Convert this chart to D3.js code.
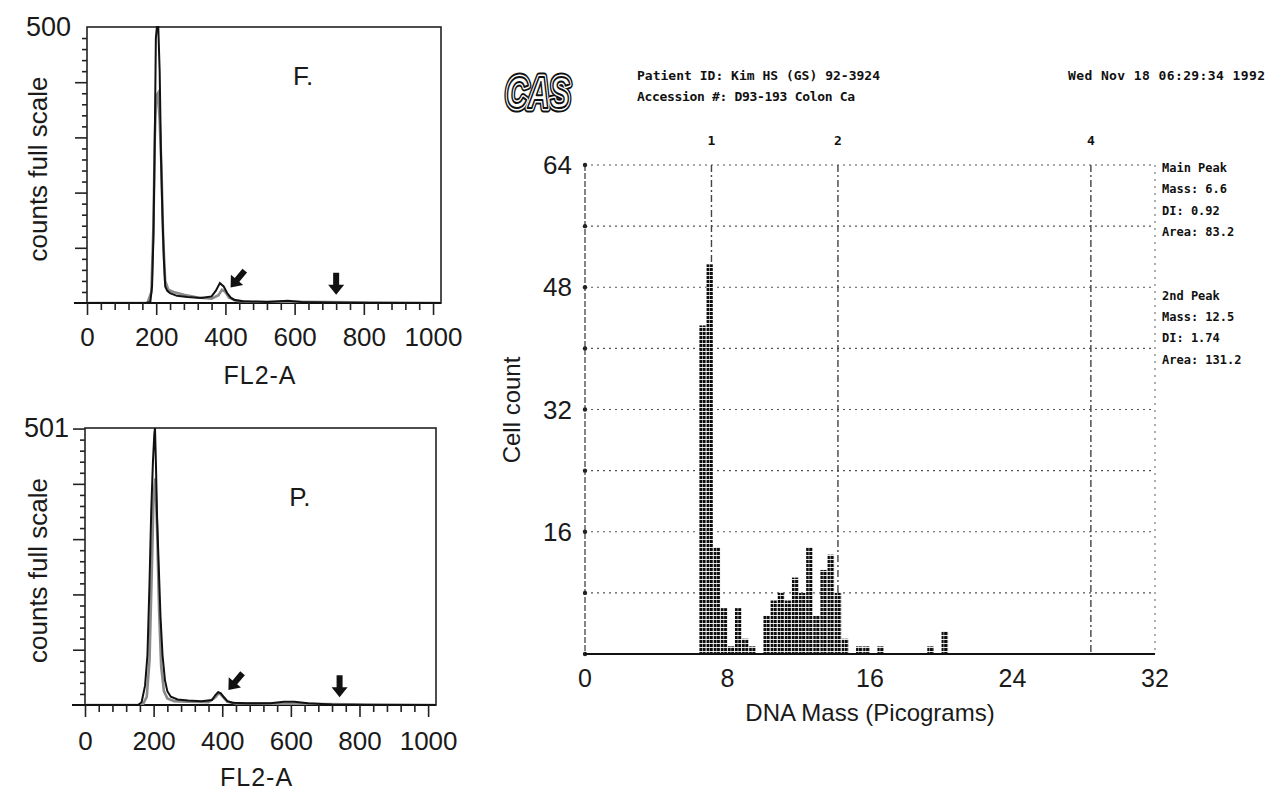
<!DOCTYPE html>
<html>
<head>
<meta charset="utf-8">
<script src="https://cdn.jsdelivr.net/npm/d3@7/dist/d3.min.js"></script>
<style>
	body{margin:0;background:#fff;}
	svg{display:block;}
	.sans{font-family:"Liberation Sans", Arial, sans-serif;fill:#1a1a1a;}
	.mono{font-family:"DejaVu Sans Mono", monospace;fill:#111;font-weight:bold;}
</style>
</head>
<body>
<svg id="svg"></svg>
<script>
"use strict";

// ---- left histograms (FL2-A channel vs counts) ----
var fChannels  = [0,170,183,188,192,196,199,202,206,210,214,218,222,226,232,240,260,290,330,360,372,384,395,405,415,425,450,520,580,620,700,820,1023];
var fCounts    = [0,0,2,30,120,300,480,500,500,420,260,160,80,30,22,18,13,11,9,12,22,36,30,18,10,6,3,2,4,2,1,0,0];
var fChannels2 = [0,175,186,192,196,200,205,210,215,220,226,235,250,280,320,360,380,390,400,410,430,470,600,1023];
var fCounts2   = [0,0,20,140,300,375,380,330,250,120,40,24,20,15,10,8,14,24,20,10,4,2,2,0];

var pChannels  = [0,155,165,175,182,188,193,198,202,204,207,210,215,220,226,233,240,250,270,300,340,370,380,388,396,405,415,430,470,540,580,610,650,720,820,1023];
var pCounts    = [0,0,5,35,90,220,350,440,490,501,430,340,250,160,90,45,25,15,10,8,7,9,18,23,21,14,7,4,3,3,6,6,3,1,0,0];
var pChannels2 = [0,168,180,188,195,200,205,210,216,222,230,240,260,300,360,380,390,400,415,440,600,1023];
var pCounts2   = [0,0,15,80,250,380,410,320,170,70,25,12,7,6,5,14,22,16,6,3,2,0];

var xTicksMajor = [0,200,400,600,800,1000];

// ---- CAS DNA mass histogram ----
var massBins   = [6.4,6.8,7.2,7.6,8.0,8.4,8.8,9.2,10.0,10.4,10.8,11.2,11.6,12.0,12.4,12.8,13.2,13.6,14.0,14.4,15.2,15.6,16.4,19.2,20.0];
var cellCounts = [43,51,14,6,1,6,2,1,5,7,8,7,10,8,14,5,11,13,8,2,1,1,1,1,3];
var massTicks  = [0,8,16,24,32];
var countTicks = [16,32,48,64];
var refLines   = [{m:7.1, label:"1"},{m:14.2, label:"2"},{m:28.4, label:"4"}];
var peakInfo   = ["Main Peak","Mass: 6.6","DI:   0.92","Area: 83.2","","","2nd Peak","Mass: 12.5","DI:   1.74","Area: 131.2"];

var svg = d3.select("#svg").attr("width",1270).attr("height",794);

var defs = svg.append("defs");
var pat = defs.append("pattern").attr("id","dots")
	.attr("patternUnits","userSpaceOnUse").attr("width",3.55).attr("height",4);
pat.append("rect").attr("width",3.55).attr("height",4).attr("fill","#fff");
pat.append("rect").attr("width",3.05).attr("height",3.1).attr("fill","#0d0d0d");

// arrow glyph, pointing down, tip at (0,0)
var arrowPath = "M0,0 L-8,-10 L-3,-10 L-3,-22 L3,-22 L3,-10 L8,-10 Z";

function panel(o){
	var g = svg.append("g");
	var x = d3.scaleLinear().domain([0,1023]).range([o.left,o.right]);
	var y = d3.scaleLinear().domain([0,o.yMax]).range([o.bottom,o.top]);

	var clipId = "clip"+o.name;
	defs.append("clipPath").attr("id",clipId).append("rect")
		.attr("x",o.left).attr("y",o.top-1).attr("width",o.right-o.left).attr("height",o.bottom-o.top+1);

	// frame
	g.append("rect").attr("x",o.left).attr("y",o.top)
		.attr("width",o.right-o.left).attr("height",o.bottom-o.top)
		.attr("fill","none").attr("stroke","#222").attr("stroke-width",1.6);
	g.append("line").attr("x1",o.left-13).attr("x2",o.right)
		.attr("y1",o.bottom).attr("y2",o.bottom).attr("stroke","#111").attr("stroke-width",2);

	// x axis ticks
	var xMinor = d3.range(0,1001,40).filter(function(v){return v%200!==0;});
	var ax = g.append("g").attr("transform","translate(0,"+o.bottom+")")
		.call(d3.axisBottom(x).tickValues(xTicksMajor).tickSize(12).tickPadding(o.labelPad).tickFormat(d3.format("d")));
	g.append("g").attr("transform","translate(0,"+o.bottom+")")
		.call(d3.axisBottom(x).tickValues(xMinor).tickSize(7).tickFormat(""));

	// y axis ticks
	g.append("g").attr("transform","translate("+o.left+",0)")
		.call(d3.axisLeft(y).tickValues(d3.range(100,o.yMax,100)).tickSize(12).tickFormat(""));
	g.append("g").attr("transform","translate("+o.left+",0)")
		.call(d3.axisLeft(y).tickValues(d3.range(20,o.yMax,20).filter(function(v){return v%100!==0;})).tickSize(5).tickFormat(""));

	g.selectAll(".domain").remove();
	g.selectAll(".tick line").attr("stroke","#222").attr("stroke-width",1.6);
	ax.selectAll("text").attr("class","sans").style("font-size","26px").attr("fill","#1a1a1a");

	g.append("text").attr("class","sans").attr("x",o.left-16).attr("y",o.top+9)
		.attr("text-anchor","end").style("font-size","27px").text(o.yMax);

	g.append("text").attr("class","sans")
		.attr("transform","translate(47,"+((o.top+o.bottom)/2+4)+") rotate(-90)")
		.attr("text-anchor","middle").style("font-size","26px").text("counts full scale");

	g.append("text").attr("class","sans").attr("x",x(500)).attr("y",o.bottom+o.titleDy)
		.attr("text-anchor","middle").style("font-size","25px").style("letter-spacing","1px").text("FL2-A");

	g.append("text").attr("class","sans").attr("x",x(o.tagAt[0])).attr("y",y(o.tagAt[1]))
		.style("font-size","26px").text(o.tag);

	// curves
	var line = d3.line().x(function(d){return x(d[0]);}).y(function(d){return y(d[1]);});
	var cg = g.append("g").attr("clip-path","url(#"+clipId+")");
	cg.append("path").datum(d3.zip(o.ch2,o.c2)).attr("d",line)
		.attr("fill","none").attr("stroke","#8a8a8a").attr("stroke-width",2.6);
	cg.append("path").datum(d3.zip(o.ch,o.c)).attr("d",line)
		.attr("fill","none").attr("stroke","#111").attr("stroke-width",2);

	// arrows
	g.append("path").attr("d",arrowPath).attr("fill","#111")
		.attr("transform","translate("+x(o.diag[0])+","+y(o.diag[1])+") rotate(40)");
	g.append("path").attr("d",arrowPath).attr("fill","#111")
		.attr("transform","translate("+x(o.down[0])+","+y(o.down[1])+")");
}

panel({name:"F", left:87, right:441, top:27, bottom:303, yMax:500, labelPad:13, titleDy:81,
	ch:fChannels, c:fCounts, ch2:fChannels2, c2:fCounts2, tag:"F.", tagAt:[595,395],
	diag:[415,28], down:[720,15]});
panel({name:"P", left:85, right:436, top:428, bottom:705, yMax:501, labelPad:15, titleDy:81,
	ch:pChannels, c:pCounts, ch2:pChannels2, c2:pCounts2, tag:"P.", tagAt:[595,360],
	diag:[418,27], down:[742,14]});

// ---- right chart ----
var rx = d3.scaleLinear().domain([0,32]).range([585,1155]);
var ry = d3.scaleLinear().domain([0,64]).range([654,165]);
var r = svg.append("g");

// grid
r.selectAll(".hgrid").data(d3.range(8,65,8)).enter().append("line")
	.attr("x1",rx(0)).attr("x2",rx(32)).attr("y1",ry).attr("y2",ry)
	.attr("stroke","#555").attr("stroke-width",1.2).attr("stroke-dasharray","2,4");
r.append("line").attr("x1",rx(32)).attr("x2",rx(32)).attr("y1",ry(64)).attr("y2",ry(0))
	.attr("stroke","#777").attr("stroke-width",1.2).attr("stroke-dasharray","2,5");
r.append("line").attr("x1",rx(0)).attr("x2",rx(0)).attr("y1",ry(64)).attr("y2",ry(0))
	.attr("stroke","#444").attr("stroke-width",1.3).attr("stroke-dasharray","6,2");
r.selectAll(".ytk").data(d3.range(0,65,8)).enter().append("circle")
	.attr("cx",rx(0)).attr("cy",ry).attr("r",2.2).attr("fill","#222");

// reference lines 1, 2, 4
r.selectAll(".ref").data(refLines).enter().append("line")
	.attr("x1",function(d){return rx(d.m);}).attr("x2",function(d){return rx(d.m);})
	.attr("y1",ry(64)).attr("y2",ry(0))
	.attr("stroke","#444").attr("stroke-width",1.4).attr("stroke-dasharray","7,3,2,3");
r.selectAll(".refl").data(refLines).enter().append("text").attr("class","mono")
	.attr("x",function(d){return rx(d.m);}).attr("y",145).attr("text-anchor","middle")
	.style("font-size","13px").text(function(d){return d.label;});

// bars
r.selectAll(".bar").data(d3.zip(massBins,cellCounts)).enter().append("rect")
	.attr("x",function(d){return rx(d[0])+0.3;})
	.attr("width",function(d){return rx(d[0]+0.4)-rx(d[0])-0.6;})
	.attr("y",function(d){return ry(d[1]);})
	.attr("height",function(d){return ry(0)-ry(d[1]);})
	.attr("fill","url(#dots)");

// baseline
r.append("line").attr("x1",rx(0)).attr("x2",rx(32)).attr("y1",ry(0)).attr("y2",ry(0))
	.attr("stroke","#111").attr("stroke-width",2.2);

// tick labels
r.selectAll(".xl").data(massTicks).enter().append("text").attr("class","sans")
	.attr("x",rx).attr("y",687).attr("text-anchor","middle").style("font-size","25px").text(String);
r.selectAll(".yl").data(countTicks).enter().append("text").attr("class","sans")
	.attr("x",572).attr("y",function(d){return ry(d)+9;}).attr("text-anchor","end")
	.style("font-size","26px").text(String);

r.append("text").attr("class","sans").attr("x",rx(16)).attr("y",721).attr("text-anchor","middle")
	.style("font-size","24px").text("DNA Mass (Picograms)");
r.append("text").attr("class","sans").attr("transform","translate(520,410) rotate(-90)")
	.attr("text-anchor","middle").style("font-size","24px").text("Cell count");

// header
var logo = r.append("g").attr("transform","translate(506,108)");
[[9,"#111","none"],[5,"#fff","none"],[2,"#111","#fff"]].forEach(function(s){
	logo.append("text").attr("x",0).attr("y",0).attr("textLength",64).attr("lengthAdjust","spacingAndGlyphs")
		.style("font-family","Liberation Sans, Arial, sans-serif").style("font-weight","bold").style("font-style","italic")
		.style("font-size","44px").attr("stroke",s[1]).attr("stroke-width",s[0]).attr("stroke-linejoin","round")
		.attr("fill",s[2]).text("CAS");
});
r.append("text").attr("class","mono").attr("x",637).attr("y",80).attr("textLength",243)
	.style("font-size","13px").text("Patient ID: Kim HS (GS) 92-3924");
r.append("text").attr("class","mono").attr("x",637).attr("y",101).attr("textLength",218)
	.style("font-size","13px").text("Accession #: D93-193 Colon Ca");
r.append("text").attr("class","mono").attr("x",1068).attr("y",80).attr("textLength",197)
	.style("font-size","13px").text("Wed Nov 18 06:29:34 1992");

r.selectAll(".info").data(peakInfo).enter().append("text").attr("class","mono")
	.attr("x",1162).attr("y",function(d,i){return 172+i*21.3;})
	.style("font-size","12px").text(String);
</script>
</body>
</html>
